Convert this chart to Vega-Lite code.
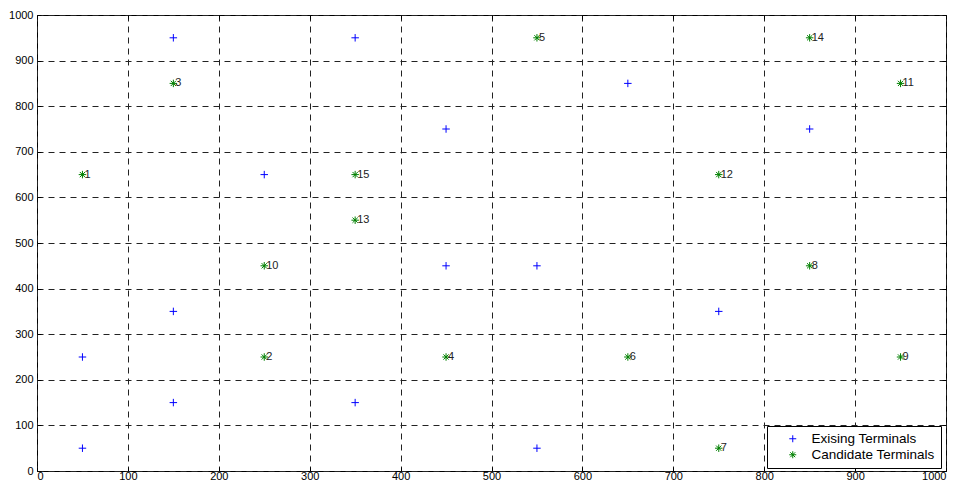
{
  "$schema": "https://vega.github.io/schema/vega-lite/v6.json",
  "width": 909,
  "height": 456,
  "autosize": {"type": "none"},
  "padding": {"left": 37, "top": 15, "right": 9, "bottom": 14},
  "background": "white",
  "config": {
    "view": {"stroke": "black", "strokeWidth": 1},
    "font": "Liberation Sans",
    "axis": {
      "labelFont": "Liberation Sans",
      "labelFontSize": 11,
      "labelColor": "black",
      "domain": false,
      "grid": true,
      "gridColor": "#222",
      "gridDash": [6, 5],
      "gridWidth": 1,
      "tickColor": "black",
      "tickSize": -4,
      "tickWidth": 1,
      "format": "d",
      "title": null
    }
  },
  "data": {
    "values": [
      {"x": 150, "y": 950, "type": "Exising Terminals", "label": ""},
      {"x": 350, "y": 950, "type": "Exising Terminals", "label": ""},
      {"x": 650, "y": 850, "type": "Exising Terminals", "label": ""},
      {"x": 450, "y": 750, "type": "Exising Terminals", "label": ""},
      {"x": 850, "y": 750, "type": "Exising Terminals", "label": ""},
      {"x": 250, "y": 650, "type": "Exising Terminals", "label": ""},
      {"x": 450, "y": 450, "type": "Exising Terminals", "label": ""},
      {"x": 550, "y": 450, "type": "Exising Terminals", "label": ""},
      {"x": 150, "y": 350, "type": "Exising Terminals", "label": ""},
      {"x": 750, "y": 350, "type": "Exising Terminals", "label": ""},
      {"x": 50, "y": 250, "type": "Exising Terminals", "label": ""},
      {"x": 150, "y": 150, "type": "Exising Terminals", "label": ""},
      {"x": 350, "y": 150, "type": "Exising Terminals", "label": ""},
      {"x": 50, "y": 50, "type": "Exising Terminals", "label": ""},
      {"x": 550, "y": 50, "type": "Exising Terminals", "label": ""},
      {"x": 50, "y": 650, "type": "Candidate Terminals", "label": "1"},
      {"x": 250, "y": 250, "type": "Candidate Terminals", "label": "2"},
      {"x": 150, "y": 850, "type": "Candidate Terminals", "label": "3"},
      {"x": 450, "y": 250, "type": "Candidate Terminals", "label": "4"},
      {"x": 550, "y": 950, "type": "Candidate Terminals", "label": "5"},
      {"x": 650, "y": 250, "type": "Candidate Terminals", "label": "6"},
      {"x": 750, "y": 50, "type": "Candidate Terminals", "label": "7"},
      {"x": 850, "y": 450, "type": "Candidate Terminals", "label": "8"},
      {"x": 950, "y": 250, "type": "Candidate Terminals", "label": "9"},
      {"x": 250, "y": 450, "type": "Candidate Terminals", "label": "10"},
      {"x": 950, "y": 850, "type": "Candidate Terminals", "label": "11"},
      {"x": 750, "y": 650, "type": "Candidate Terminals", "label": "12"},
      {"x": 350, "y": 550, "type": "Candidate Terminals", "label": "13"},
      {"x": 850, "y": 950, "type": "Candidate Terminals", "label": "14"},
      {"x": 350, "y": 650, "type": "Candidate Terminals", "label": "15"}
    ]
  },
  "layer": [
    {
      "mark": {"type": "point", "filled": false, "strokeWidth": 1, "size": 56, "opacity": 1},
      "encoding": {
        "x": {"field": "x", "type": "quantitative", "scale": {"domain": [0, 1000], "nice": false},
              "axis": {"orient": "bottom", "values": [0,100,200,300,400,500,600,700,800,900,1000], "labelPadding": 3}},
        "y": {"field": "y", "type": "quantitative", "scale": {"domain": [0, 1000], "nice": false},
              "axis": {"orient": "left", "values": [0,100,200,300,400,500,600,700,800,900,1000], "labelPadding": 8}},
        "color": {"field": "type", "type": "nominal",
                  "scale": {"domain": ["Exising Terminals", "Candidate Terminals"], "range": ["#0000ff", "#008000"]},
                  "legend": {"title": null, "orient": "none", "legendX": 730, "legendY": 411,
                             "strokeColor": "black", "fillColor": "white", "padding": 6,
                             "labelFont": "Liberation Sans", "labelFontSize": 13.5, "labelColor": "black",
                             "symbolSize": 49, "symbolStrokeWidth": 1, "symbolFillColor": "transparent",
                             "symbolOffset": 13, "labelOffset": 12, "rowPadding": 1, "cornerRadius": 0}},
        "shape": {"field": "type", "type": "nominal",
                  "scale": {"domain": ["Exising Terminals", "Candidate Terminals"],
                            "range": ["M-1,0L1,0M0,-1L0,1", "M-1,0L1,0M0,-1L0,1M-0.7,-0.7L0.7,0.7M-0.7,0.7L0.7,-0.7"]},
                  "legend": null}
      }
    },
    {
      "transform": [{"filter": "datum.label != ''"}],
      "mark": {"type": "text", "align": "left", "baseline": "middle", "dx": 2, "fontSize": 11, "font": "Liberation Sans", "color": "#222"},
      "encoding": {
        "x": {"field": "x", "type": "quantitative", "scale": {"domain": [0, 1000], "nice": false},
              "axis": {"orient": "top", "values": [0,100,200,300,400,500,600,700,800,900,1000], "labels": false, "grid": false}},
        "y": {"field": "y", "type": "quantitative", "scale": {"domain": [0, 1000], "nice": false},
              "axis": {"orient": "right", "values": [0,100,200,300,400,500,600,700,800,900,1000], "labels": false, "grid": false}},
        "text": {"field": "label"}
      }
    }
  ],
  "resolve": {"scale": {"x": "independent", "y": "independent"}}
}
